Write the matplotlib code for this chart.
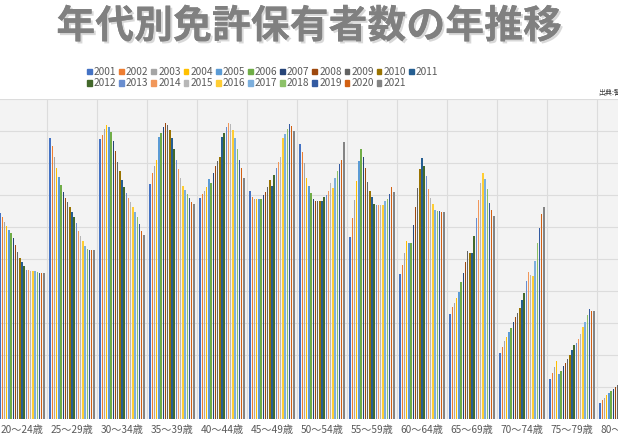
import numpy as np
import matplotlib
matplotlib.use("Agg")
import matplotlib.pyplot as plt
import matplotlib.patheffects as pe
from matplotlib.patches import Patch

plt.rcParams['font.family'] = ['Noto Sans CJK JP', 'DejaVu Sans']

# data (millions)
years = [str(y) for y in range(2001, 2022)]
ages = ['20～24歳', '25～29歳', '30～34歳', '35～39歳', '40～44歳', '45～49歳',
        '50～54歳', '55～59歳', '60～64歳', '65～69歳', '70～74歳', '75～79歳', '80～84歳']
v20 = [6.43, 6.32, 6.17, 6.03, 5.91, 5.80, 5.65, 5.44, 5.23, 5.02, 4.90, 4.78, 4.67, 4.66, 4.64, 4.63, 4.63, 4.60, 4.57, 4.57, 4.57]
v25 = [8.79, 8.53, 8.18, 7.83, 7.55, 7.30, 7.08, 6.92, 6.77, 6.61, 6.46, 6.30, 6.11, 5.89, 5.71, 5.55, 5.42, 5.31, 5.29, 5.27, 5.27]
v30 = [8.75, 8.88, 9.05, 9.19, 9.14, 8.98, 8.70, 8.39, 8.03, 7.74, 7.47, 7.24, 7.05, 6.90, 6.79, 6.64, 6.48, 6.30, 6.08, 5.89, 5.75]
v35 = [7.33, 7.68, 7.91, 8.09, 8.82, 8.95, 9.11, 9.24, 9.19, 9.03, 8.77, 8.43, 8.09, 7.80, 7.54, 7.28, 7.16, 7.02, 6.90, 6.79, 6.72]
v40 = [6.92, 7.03, 7.14, 7.26, 7.50, 7.36, 7.70, 7.91, 8.07, 8.20, 8.80, 8.93, 9.11, 9.24, 9.22, 9.03, 8.77, 8.43, 8.09, 7.83, 7.54]
v45 = [7.14, 6.93, 6.89, 6.89, 6.88, 6.88, 7.00, 7.09, 7.24, 7.47, 7.29, 7.63, 7.83, 8.04, 8.18, 8.77, 8.90, 9.06, 9.21, 9.16, 9.00]
v50 = [8.59, 8.35, 7.99, 7.52, 7.28, 7.07, 6.86, 6.82, 6.81, 6.81, 6.81, 6.93, 7.00, 7.14, 7.39, 7.21, 7.54, 7.76, 7.96, 8.09, 8.67]
v55 = [5.70, 6.27, 6.84, 7.45, 8.07, 8.43, 8.20, 7.83, 7.40, 7.13, 6.93, 6.72, 6.69, 6.68, 6.68, 6.68, 6.81, 6.89, 7.02, 7.24, 7.08]
v60 = [4.53, 4.81, 5.20, 5.56, 5.51, 5.51, 6.06, 6.61, 7.21, 7.81, 8.16, 7.92, 7.59, 7.18, 6.91, 6.72, 6.53, 6.51, 6.49, 6.48, 6.48]
v65 = [3.28, 3.49, 3.64, 3.77, 3.96, 4.27, 4.55, 4.92, 5.24, 5.18, 5.18, 5.72, 6.27, 6.84, 7.39, 7.70, 7.49, 7.18, 6.76, 6.53, 6.34]
v70 = [2.05, 2.26, 2.45, 2.57, 2.71, 2.83, 3.02, 3.18, 3.30, 3.46, 3.72, 3.95, 4.31, 4.58, 4.50, 4.47, 4.95, 5.49, 5.96, 6.41, 6.61]
v75 = [1.24, 1.43, 1.64, 1.82, 1.41, 1.51, 1.66, 1.76, 1.86, 2.00, 2.16, 2.31, 2.39, 2.51, 2.66, 2.86, 3.04, 3.25, 3.43, 3.38, 3.38]
v80 = [0.49, 0.59, 0.67, 0.75, 0.80, 0.88, 0.93, 0.99, 1.05, 1.10, 1.15, 1.20, 1.25, 1.30, 1.35, 1.40, 1.45, 1.50, 1.55, 1.60, 1.62]
vals = np.array([v20, v25, v30, v35, v40, v45, v50, v55, v60, v65, v70, v75, v80])

colors = ['#4472C4', '#ED7D31', '#A5A5A5', '#FFC000', '#5B9BD5', '#70AD47', '#264478',
          '#9E480E', '#636363', '#997300', '#255E91', '#43682B', '#698ED0', '#F1975A',
          '#B7B7B7', '#FFCD33', '#7CAFDD', '#8CC168', '#335AA1', '#D26012', '#848484']

fig = plt.figure(figsize=(6.18, 4.4), dpi=100)
ax = fig.add_axes([0, 21 / 440, 1, 320 / 440])
ax.set_facecolor('#f3f3f3')

x = np.arange(len(ages))
slot = 0.92 / len(years)
for j, yr in enumerate(years):
    ax.bar(x - 0.46 + slot * (j + 0.5), vals[:, j], width=slot * 0.65,
           color=colors[j], zorder=3)

ax.set_xlim(-0.44, 11.92)
ax.set_ylim(0, 10)
ax.set_yticks(np.arange(1, 11))
ax.set_xticks(x[:-1] + 0.5)
ax.grid(True, color='#dcdcdc', linewidth=0.8, zorder=0)
ax.tick_params(length=0, labelleft=False, labelbottom=False)
for s in ax.spines.values():
    s.set_visible(False)
# the reference is cropped at both sides, so the outer labels are cut too
for i, a in enumerate(ages):
    ax.text(i, -0.2, a, ha='center', va='top', fontsize=7.3, color='#595959',
            clip_on=False)

fig.text(0.5, 0.94, '年代別免許保有者数の年推移', ha='center', va='center',
         fontsize=28, fontweight='bold', color='#808080',
         path_effects=[pe.withSimplePatchShadow(offset=(1.5, -1.5), shadow_rgbFace='#c8c8c8', alpha=0.7),
                       pe.Normal()])

handles = [Patch(color=c) for c in colors]
order = []
for j in range(11):
    order.append(j)
    if j + 11 < len(years):
        order.append(j + 11)
fig.legend([handles[k] for k in order], [years[k] for k in order], ncol=11,
           loc='center', bbox_to_anchor=(0.425, 0.823), frameon=False, fontsize=7.3,
           handlelength=0.45, handleheight=0.45, handletextpad=0.2,
           columnspacing=0.3, labelspacing=0.12, labelcolor='#595959')

fig.text(0.968, 0.783, '出典:警察庁運転免許統計', fontsize=5, color='#404040')

fig.savefig('out.png', dpi=100)
